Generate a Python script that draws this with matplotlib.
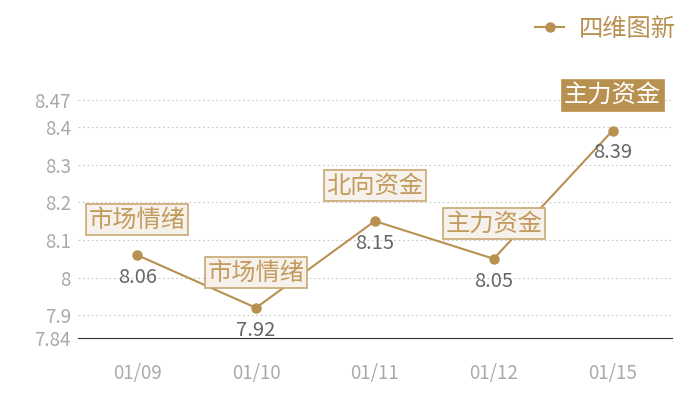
import matplotlib.pyplot as plt

plt.rcParams['font.family'] = ['Noto Sans CJK SC', 'DejaVu Sans']

# 数据
dates = ['01/09', '01/10', '01/11', '01/12', '01/15']
values = [8.06, 7.92, 8.15, 8.05, 8.39]
tags = ['市场情绪', '市场情绪', '北向资金', '主力资金', '主力资金']
y_ticks = [7.84, 7.9, 8, 8.1, 8.2, 8.3, 8.4, 8.47]
y_tick_labels = ['7.84', '7.9', '8', '8.1', '8.2', '8.3', '8.4', '8.47']
series_name = '四维图新'

gold = '#B8904F'

fig = plt.figure(figsize=(7, 4), dpi=100)
ax = fig.add_axes([0.111, 0.155, 0.849, 0.594])

x = [i + 0.5 for i in range(len(dates))]
ax.plot(x, values, color=gold, lw=1.5, marker='o', ms=6.5, label=series_name, zorder=3)

ax.set_xlim(0, len(dates))
ax.set_ylim(y_ticks[0], y_ticks[-1])
ax.set_xticks(x)
ax.set_xticklabels(dates)
ax.set_yticks(y_ticks)
ax.set_yticklabels(y_tick_labels)
ax.tick_params(axis='both', length=0, colors='#AAAAAA', labelsize=13.5)
ax.tick_params(axis='x', pad=18)
ax.tick_params(axis='y', pad=5)

for t in y_ticks[1:]:
    ax.axhline(t, color='#C8C8C8', lw=0.8, ls=(0, (1.5, 2.5)), zorder=1)

for s in ['top', 'right', 'left']:
    ax.spines[s].set_visible(False)
ax.spines['bottom'].set_color('#333333')
ax.spines['bottom'].set_linewidth(0.8)

# 数值标签和标注框
for i, (xi, yi) in enumerate(zip(x, values)):
    ax.annotate(f'{yi:.2f}', (xi, yi), xytext=(0, -16), textcoords='offset points',
                ha='center', va='center', fontsize=14.5, color='#666666', zorder=4)
    last = i == len(values) - 1
    ax.annotate(tags[i], (xi, yi), xytext=(0, 25.5), textcoords='offset points',
                ha='center', va='center', fontsize=17.5,
                color='white' if last else '#C29B5E', zorder=5,
                bbox=dict(boxstyle='square,pad=0.1',
                          fc=gold if last else '#F6F1EA',
                          ec=gold if last else '#C9A772', lw=1.2))

leg = fig.legend(loc='upper right', bbox_to_anchor=(0.997, 1.015), frameon=False,
                 fontsize=17.5, handlelength=1.2, handletextpad=0.6, labelcolor=gold)

fig.savefig('out.png', dpi=100)
